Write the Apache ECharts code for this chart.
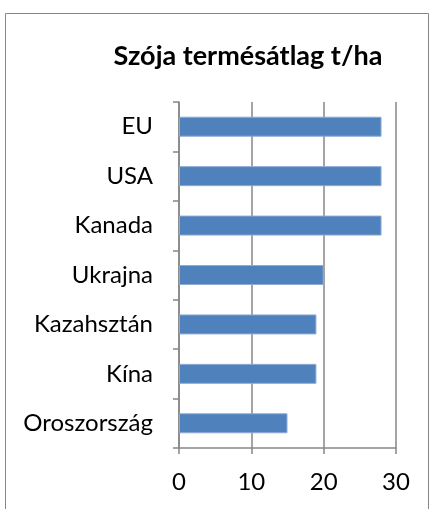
<!DOCTYPE html>
<html>
<head>
<meta charset="utf-8">
<script src="https://cdn.jsdelivr.net/npm/echarts@6/dist/echarts.min.js"></script>
<style>
  html, body { margin: 0; padding: 0; background: #fff; }
  #chart { width: 429px; height: 509px; }
</style>
</head>
<body>
<div id="chart"></div>
<script>
// adatok
const countries = ['EU', 'USA', 'Kanada', 'Ukrajna', 'Kazahsztán', 'Kína', 'Oroszország'];
const yields = [28, 28, 28, 20, 19, 19, 15];
const xTicks = [0, 10, 20, 30];

const myChart = echarts.init(document.getElementById('chart'));
const font = 'Lato, "Open Sans", sans-serif';
const grey = '#868686';

const option = {
  animation: false,
  textStyle: { fontFamily: font },
  title: {
    text: 'Szója termésátlag t/ha',
    left: 243,
    top: 38,
    textAlign: 'center',
    textStyle: { fontSize: 27, fontWeight: 'bold', color: '#000', fontFamily: font }
  },
  graphic: [{
    type: 'rect',
    shape: { x: 5.5, y: 13.5, width: 423, height: 520 },
    style: { fill: 'none', stroke: grey, lineWidth: 1 },
    silent: true
  }],
  grid: { left: 179, right: 33, top: 102, bottom: 61, containLabel: false },
  xAxis: {
    type: 'value',
    min: xTicks[0],
    max: xTicks[xTicks.length - 1],
    interval: 10,
    axisLine: { show: true, lineStyle: { color: grey, width: 1.5 } },
    axisTick: { show: true, length: 6, lineStyle: { color: grey, width: 1.5 } },
    splitLine: { show: true, lineStyle: { color: grey, width: 1.5 } },
    axisLabel: { fontSize: 24, color: '#000', margin: 22, fontFamily: font }
  },
  yAxis: {
    type: 'category',
    data: countries,
    inverse: true,
    axisLine: { show: true, lineStyle: { color: grey, width: 1.5 } },
    axisTick: { show: true, length: 6, alignWithLabel: false, lineStyle: { color: grey, width: 1.5 } },
    axisLabel: { fontSize: 24, color: '#000', margin: 26, fontFamily: font }
  },
  series: [{
    type: 'bar',
    data: yields,
    barWidth: 20,
    itemStyle: { color: '#4F81BD', borderColor: '#8EABD6', borderWidth: 1 }
  }]
};

myChart.setOption(option);
</script>
</body>
</html>
